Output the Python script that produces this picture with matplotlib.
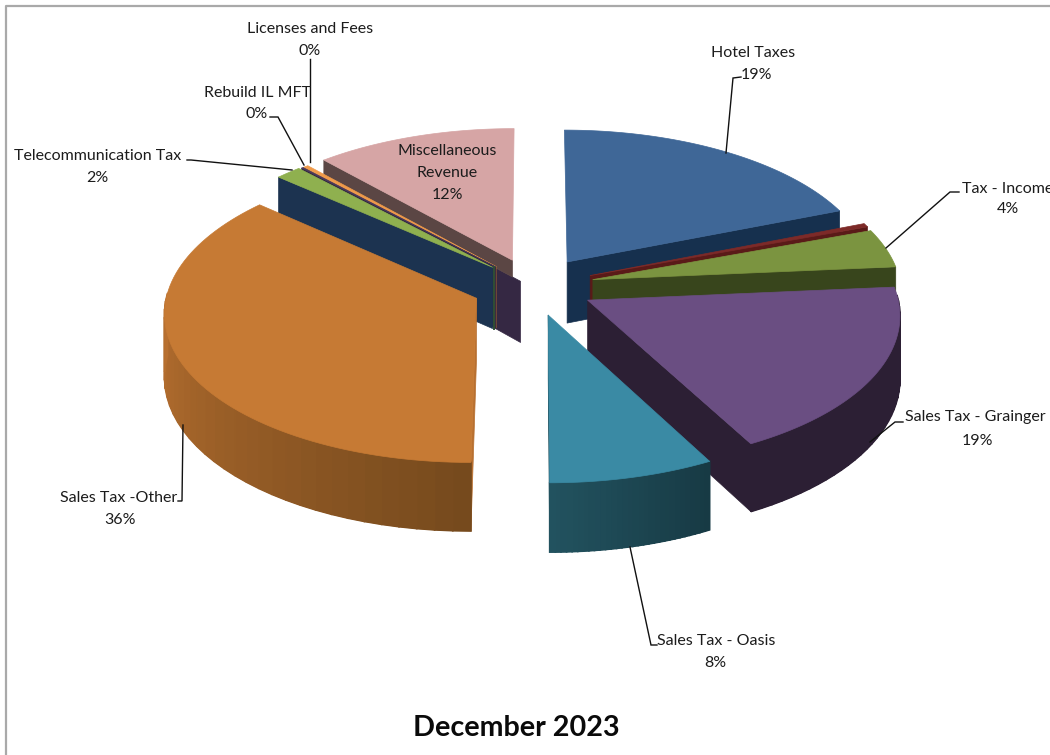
#!/usr/bin/env python3
"""Revenue split for December 2023, drawn as an exploded 3-D pie.

matplotlib has no perspective pie, so the slices are projected by hand onto an
axes that runs in figure pixels and painted back to front.
"""

import numpy as np
import matplotlib
matplotlib.use("Agg")
import matplotlib.pyplot as plt
from matplotlib.patches import Polygon

CATEGORIES = ["Hotel Taxes", "Other Local", "Tax - Income", "Sales Tax - Grainger",
              "Sales Tax - Oasis", "Sales Tax -Other", "Telecommunication Tax",
              "Rebuild IL MFT", "Licenses and Fees", "Miscellaneous\nRevenue"]
SHARES = [19.0, 0.4, 4.2, 18.6, 7.8, 36.49, 1.5, 0.1, 0.3, 11.61]
EXPLODE = [0.20, 0.20, 0.20, 0.20, 0.20, 0.20, 0.185, 0.18, 0.18, 0.19]

TOP_COLORS = ["#3f6797", "#7d2a28", "#7b9440", "#6a4e82", "#3a8aa4",
              "#c67a34", "#8fb04f", "#4a3a5c", "#ef9a4a", "#d6a5a5"]
WALL_LIGHT = ["#16304e", "#5a1a18", "#38451c", "#2c1f34", "#22525f",
              "#b87030", "#1c3350", "#2f2440", "#a8672c", "#5b4644"]
WALL_DARK = ["#16304e", "#5a1a18", "#38451c", "#2c1f34", "#173a44",
             "#764a1d", "#1c3350", "#2f2440", "#a8672c", "#5b4644"]

# Paint order, farthest slice first
PAINT_ORDER = [9, 0, 8, 7, 6, 1, 2, 3, 5, 4]

W, H = 1050, 755
CX, CY = 533, 286     # pie centre
RX, RY = 308, 147.5   # radii of the disc on screen
PERSP = 0.088         # how much the far side shrinks
DEPTH = 62            # thickness of the pie
INK = "#1c1c1c"
FRAME = "#a9a9a9"


def project(u, v, z=0.0):
    s = 1.0 / (1.0 + PERSP * v)
    return CX + RX * u * s, CY - RY * v * s + z * s


def fill(ax, pts, color):
    ax.add_patch(Polygon(pts, closed=True, facecolor=color, edgecolor=color,
                         linewidth=0.5, joinstyle="round"))


def mix(c1, c2, t):
    a = np.array(matplotlib.colors.to_rgb(c1))
    b = np.array(matplotlib.colors.to_rgb(c2))
    return tuple(a + (b - a) * t)


class Slice:
    def __init__(self, start, end, explode):
        self.start, self.end = start, end
        mid = np.radians(0.5 * (start + end))
        self.ou, self.ov = explode * np.sin(mid), explode * np.cos(mid)

    def at(self, deg, r=1.0, z=0.0):
        a = np.radians(deg)
        return project(self.ou + r * np.sin(a), self.ov + r * np.cos(a), z)

    def top(self):
        arc = np.linspace(self.start, self.end, 80)
        return [self.at(self.start, 0.0)] + [self.at(d) for d in arc]

    def radial_wall(self, deg, r0=0.0, r1=1.0, z0=0.0, z1=DEPTH):
        return [self.at(deg, r0, z0), self.at(deg, r1, z0),
                self.at(deg, r1, z1), self.at(deg, r0, z1)]


def draw_slice(ax, i, sl):
    # Radial face that looks towards the viewer
    deg = sl.end if sl.start < 180 else sl.start
    if i == 9:
        # The miscellaneous slice sits on a darker lower band
        fill(ax, sl.radial_wall(deg, -0.04, 0.3, 17, 17 + DEPTH), "#352843")
        fill(ax, sl.radial_wall(deg, 0.0, 1.0, 0, 17), WALL_LIGHT[i])
    else:
        fill(ax, sl.radial_wall(deg), WALL_LIGHT[i])

    # Outer rim, shaded along the arc; the solid band underneath hides seams
    a0, a1 = max(sl.start, 88.0), min(sl.end, 272.0)
    if a1 > a0:
        edges = np.linspace(a0, a1, 31)
        band = [sl.at(d) for d in edges] + [sl.at(d, z=DEPTH) for d in edges[::-1]]
        fill(ax, band, mix(WALL_LIGHT[i], WALL_DARK[i], 0.5))
        for k in range(len(edges) - 1):
            c = mix(WALL_DARK[i], WALL_LIGHT[i], k / (len(edges) - 2))
            ax.add_patch(Polygon([sl.at(edges[k]), sl.at(edges[k + 1]),
                                  sl.at(edges[k + 1], z=DEPTH), sl.at(edges[k], z=DEPTH)],
                                 closed=True, facecolor=c, edgecolor=c, linewidth=1.2))

    fill(ax, sl.top(), TOP_COLORS[i])


def main():
    fig = plt.figure(figsize=(W / 100, H / 100), dpi=100)
    fig.patch.set_facecolor("white")
    ax = fig.add_axes([0, 0, 1, 1])
    ax.set_xlim(0, W)
    ax.set_ylim(H, 0)
    ax.axis("off")
    plt.rcParams["font.family"] = ["Lato", "DejaVu Sans"]

    # Chart frame
    ax.plot([6, 6, W], [H, 6, 6], color=FRAME, linewidth=1.6, solid_capstyle="butt")

    total = sum(SHARES)
    edges = np.cumsum([0.0] + SHARES) / total * 360.0
    slices = [Slice(edges[i], edges[i + 1], EXPLODE[i]) for i in range(len(SHARES))]
    for i in PAINT_ORDER:
        draw_slice(ax, i, slices[i])

    # Thin face where the telecom slice comes to a point
    apex = slices[6].at(slices[6].end, 0.0)
    ax.plot([apex[0] + 1] * 2, [apex[1], apex[1] + DEPTH], color="#2f4f35", linewidth=1.4)

    # Leader lines
    leaders = [
        [(741, 77), (733, 78), (726, 153)],
        [(959, 192), (950, 192), (886, 248)],
        [(903, 422), (895, 422), (870, 442)],
        [(630, 547), (651, 645), (657, 645)],
        [(183, 425), (182, 501), (178, 501)],
        [(187, 160), (191, 160), (292, 170)],
        [(270, 117), (278, 117), (304, 165)],
        [(310, 59), (310, 162)],
    ]
    for line in leaders:
        xs, ys = zip(*line)
        ax.plot(xs, ys, color="#111111", linewidth=1.0, solid_joinstyle="miter")

    # x of the name, then y of each name line, then x and y of the percent
    label_at = {
        0: (753, [53], 756, 75),
        2: (1008, [189], 1008, 209),
        3: (975, [417], 977, 441),
        4: (716, [641], 715, 663),
        5: (119, [498], 120, 520),
        6: (98, [156], 97, 178),
        7: (257, [93], 257, 114),
        8: (310, [29], 310, 51),
        9: (447, [151, 173], 447, 195),
    }
    for i, (name_x, name_ys, pct_x, pct_y) in label_at.items():
        for line, y in zip(CATEGORIES[i].split("\n"), name_ys):
            ax.text(name_x, y, line, ha="center", va="center", fontsize=11.5, color=INK)
        ax.text(pct_x, pct_y, "%d%%" % round(SHARES[i]), ha="center", va="center",
                fontsize=11.5, color=INK)

    ax.text(516, 727.5, "December 2023", ha="center", va="center", fontsize=20.7,
            fontweight="bold", color="#0a0a0a")

    fig.savefig("out.png", dpi=100, facecolor="white")


if __name__ == "__main__":
    main()
